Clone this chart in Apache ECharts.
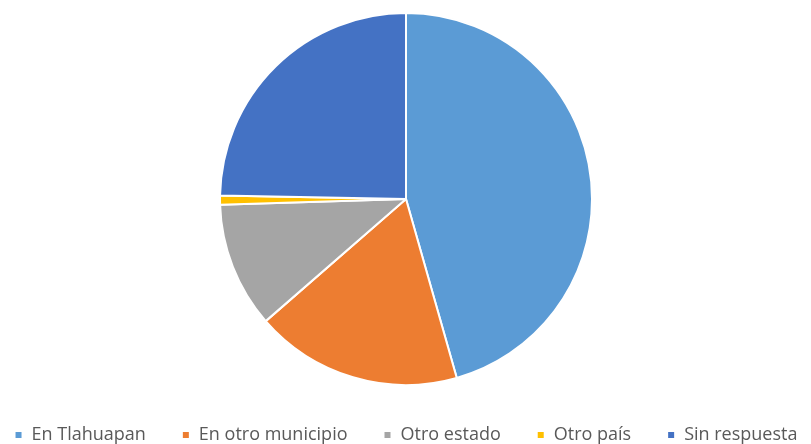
<!DOCTYPE html>
<html>
<head>
<meta charset="utf-8">
<script src="https://cdn.jsdelivr.net/npm/echarts@6/dist/echarts.min.js"></script>
<style>
  html, body { margin: 0; padding: 0; background: #fff; }
  #chart { width: 811px; height: 444px; }
</style>
</head>
<body>
<div id="chart"></div>
<script>
// categories and shares (%)
const categories = ['En Tlahuapan', 'En otro municipio', 'Otro estado', 'Otro país', 'Sin respuesta']
const shares = [45.6, 18.0, 10.9, 0.8, 24.7]
const colors = ['#5B9BD5', '#ED7D31', '#A5A5A5', '#FFC000', '#4472C4']

let myChart = echarts.init(document.getElementById('chart'))
myChart.setOption({
  animation: false,
  color: colors,
  legend: {
    top: 421,
    left: 'center',
    icon: 'rect',
    itemWidth: 8,
    itemHeight: 8,
    itemGap: 35,
    textStyle: {
      fontFamily: 'Open Sans',
      fontSize: 18,
      color: '#595959',
      padding: [0, 0, 0, 4]
    },
    data: categories
  },
  series: [{
    type: 'pie',
    center: [406, 199],
    radius: [0, 186],
    startAngle: 90,
    clockwise: true,
    label: { show: false },
    labelLine: { show: false },
    itemStyle: { borderColor: '#fff', borderWidth: 2 },
    emphasis: { disabled: true },
    data: categories.map((c, i) => ({ name: c, value: shares[i] }))
  }]
})
</script>
</body>
</html>
